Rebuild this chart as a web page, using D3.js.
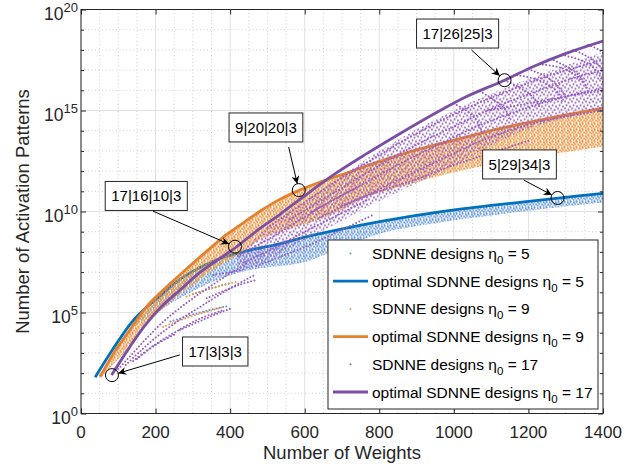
<!DOCTYPE html>
<meta charset="utf-8">
<script src="https://d3js.org/d3.v7.min.js"></script>
<style>
  body { margin: 0; background: #fff; }
  text { font-family: "Liberation Sans", Arial, sans-serif; fill: #262626; }
</style>
<div id="chart"></div>
<script>

// ---- data: [number of weights, log10(number of activation patterns)] ----

// optimal designs (lines)
var opt5 = [[38,1.8],[87,3.23],[131,4.4],[155,4.9],[176,5.26],[220,5.95],[274,6.75],[363,7.6],[453,8.09],[533,8.4],[587,8.67],[685,9.08],[801,9.5],[962,9.98],[1100,10.3],[1274,10.65],[1400,10.9]];
var opt9 = [[51,1.82],[90,3.05],[131,4.13],[176,5.29],[220,6.1],[265,6.86],[310,7.6],[354,8.3],[390,8.85],[440,9.5],[479,10.0],[533,10.6],[587,11.06],[640,11.45],[712,11.9],[765,12.25],[890,13.0],[1015,13.6],[1122,14.1],[1250,14.6],[1400,15.12]];
var opt17 = [[82,1.9],[131,3.3],[176,4.46],[220,5.37],[265,6.1],[310,6.85],[354,7.45],[408,8.12],[479,9.15],[533,9.85],[587,10.6],[676,11.8],[765,12.85],[855,13.85],[944,14.8],[1033,15.68],[1136,16.5],[1212,17.17],[1301,17.83],[1400,18.44]];

// dense clouds of designs: [weights, upper log10, lower log10]
var band5 = [[140,4.7,4.3],[176,5.2,4.7],[220,5.9,5.2],[274,6.7,5.8],[363,7.55,6.6],[453,8.05,7.1],[533,8.35,7.3],[600,8.65,7.5],[685,9.05,8.1],[801,9.45,8.9],[962,9.95,9.45],[1100,10.27,9.8],[1274,10.62,10.2],[1400,10.87,10.45]];
var band9 = [[55,1.9,1.8],[90,3.0,2.5],[131,4.1,3.3],[176,5.25,4.4],[220,6.05,5.2],[265,6.8,5.9],[310,7.55,6.5],[354,8.25,7.1],[390,8.8,7.5],[440,9.45,8.1],[479,9.95,8.6],[533,10.55,9.0],[587,11.0,9.3],[640,11.4,9.6],[712,11.85,10.2],[765,12.2,10.7],[890,12.95,11.4],[1015,13.55,12.0],[1122,14.05,12.4],[1250,14.55,12.8],[1400,15.05,13.2]];
var band17 = [[420,7.9,7.0],[479,8.9,7.4],[533,9.6,7.9],[600,10.5,8.6],[686,11.6,9.4],[765,12.6,10.2],[855,13.6,11.0],[944,14.5,11.8],[1033,15.3,12.6],[1136,16.1,13.6],[1250,16.9,14.4],[1400,17.9,15.0]];

// families of designs that show up as dotted arcs
var arcs5 = [
  [[240,4.55],[290,4.85],[340,5.1],[390,5.3]],
  [[300,5.9],[350,6.2],[400,6.45]]
];
var arcs9 = [
  [[220,4.28],[270,4.65],[330,5.0],[381,5.27]],
  [[283,5.78],[330,6.1],[380,6.35],[417,6.52]]
];
var arcs17 = [
  [[100,2.2],[140,3.0],[180,3.8],[230,4.7],[300,5.7],[380,6.7],[450,7.5]],
  [[120,2.4],[160,3.1],[210,3.9],[270,4.7],[330,5.4],[400,6.2],[470,6.9]],
  [[140,2.6],[190,3.3],[250,4.0],[320,4.7],[380,5.1]],
  [[150,2.7],[200,3.4],[250,3.9]],
  [[265,4.13],[310,4.5],[360,4.9],[404,5.22]],
  [[337,5.7],[380,6.05],[430,6.4],[470,6.61]],
  [[354,6.86],[400,7.0],[434,7.1]],
  [[420,7.8],[500,8.6],[580,9.5],[660,10.4],[740,11.2]],
  [[440,7.5],[520,8.2],[600,9.0],[686,9.8],[770,10.6]],
  [[470,7.3],[540,7.8],[620,8.4],[700,9.1],[780,9.8]],
  [[500,9.2],[587,10.3],[676,11.4],[765,12.4],[855,13.4],[944,14.3],[1033,15.1],[1136,15.9],[1250,16.7],[1400,17.5]],
  [[560,9.6],[640,10.5],[730,11.5],[820,12.5],[910,13.4],[1000,14.2],[1090,15.0],[1200,15.8],[1320,16.6],[1400,17.0]],
  [[620,10.0],[700,10.8],[790,11.7],[880,12.6],[970,13.4],[1060,14.2],[1160,14.9],[1280,15.6],[1400,16.1]],
  [[640,9.7],[720,10.4],[810,11.2],[900,12.0],[990,12.8],[1087,13.6],[1200,14.3],[1300,14.7],[1400,15.0]],
  [[700,10.3],[800,11.0],[900,11.6],[1000,12.3],[1100,12.9],[1200,13.5]],
  [[1090,15.0],[1200,15.35],[1300,15.7],[1400,16.0]],
  [[1000,15.35],[1040,14.9],[1065,14.4],[1075,13.9]],
  [[1070,15.95],[1110,15.5],[1140,15.0],[1150,14.5]],
  [[1136,16.5],[1180,16.1],[1215,15.6],[1230,15.15]],
  [[1170,16.75],[1220,16.55],[1260,16.2],[1285,15.75],[1290,15.4]],
  [[1200,17.05],[1245,16.7],[1280,16.2],[1300,15.65]],
  [[1230,17.3],[1290,17.1],[1330,16.7],[1350,16.3]],
  [[1260,17.55],[1300,17.2],[1335,16.75],[1355,16.2],[1360,15.85]],
  [[1290,17.75],[1340,17.5],[1375,17.1],[1395,16.6],[1400,16.4]],
  [[1320,18.0],[1355,17.7],[1385,17.3],[1400,17.0]],
  [[1360,18.25],[1390,18.0],[1400,17.85]]
];

// highlighted designs: label, point, box centre, arrow tail
var notes = [
  {label: "17|26|25|3", pt: [1136,16.5], box: [1010,18.81], tail: [1047,18.0]},
  {label: "9|20|20|3",  pt: [584,11.06], box: [496,14.16],  tail: [557,13.19]},
  {label: "17|16|10|3", pt: [413,8.26],  box: [175,10.77],  tail: [193,10.02]},
  {label: "5|29|34|3",  pt: [1278,10.67], box: [1176,12.33], tail: [1187,11.56]},
  {label: "17|3|3|3",   pt: [83,1.9],    box: [360,3.07],   tail: [265,2.9]}
];

var xTicks = [0,200,400,600,800,1000,1200,1400];
var yTickExp = [0,5,10,15,20];

var colLine = {5: "#0072BD", 9: "#E5812E", 17: "#7B4FA6"};
var colDot  = {5: "#5E93DA", 9: "#EE9642", 17: "#945BC0"};

// ---- layout ----
var W = 641, H = 468;
var margin = {top: 9.5, left: 81, right: 38, bottom: 54.5};
var width = W - margin.left - margin.right,
    height = H - margin.top - margin.bottom;

var svg = d3.select("#chart").append("svg")
    .attr("width", W).attr("height", H);

var defs = svg.append("defs");
defs.append("clipPath").attr("id", "plotclip")
  .append("rect").attr("width", width).attr("height", height);

// stipple tiles for the dense clouds of designs
var tileDots = [[0.8,0.9],[3.7,0.5],[2.2,2.6],[5.1,3.1],[0.6,4.4],[3.4,5.2]];
function stipple(id, size, dots, r, col) {
  var p = defs.append("pattern").attr("id", id)
      .attr("patternUnits", "userSpaceOnUse")
      .attr("width", size).attr("height", size);
  dots.forEach(function(d) {
    p.append("circle").attr("cx", d[0]).attr("cy", d[1]).attr("r", r).attr("fill", col);
  });
}
stipple("dots5", 6, tileDots, 1.0, colDot[5]);
stipple("dots9", 6, tileDots, 1.12, colDot[9]);
stipple("dots17", 7, [[1,1],[4.5,2.2],[2.6,4.8],[6,6]], 1.0, colDot[17]);

defs.append("marker").attr("id", "arrow")
    .attr("viewBox", "0 0 10 10").attr("refX", 10).attr("refY", 5)
    .attr("markerUnits", "userSpaceOnUse")
    .attr("markerWidth", 10).attr("markerHeight", 8)
    .attr("orient", "auto")
  .append("path").attr("d", "M0,0 L10,5 L0,10 L3,5 z").attr("fill", "#000");

var g = svg.append("g")
    .attr("transform", "translate(" + margin.left + "," + margin.top + ")");

var x = d3.scaleLinear().domain([0, 1400]).range([0, width]);
var y = d3.scaleLog().domain([1, 1e20]).range([height, 0]);
function yv(e) { return y(Math.pow(10, e)); }

// ---- grid ----
var xMinor = d3.range(50, 1400, 50).filter(function(v) { return v % 200 != 0; });
var yMinor = d3.range(1, 20).filter(function(e) { return e % 5 != 0; });

g.append("g").selectAll("line").data(xMinor).enter().append("line")
    .attr("x1", function(d) { return x(d); }).attr("x2", function(d) { return x(d); })
    .attr("y1", 0).attr("y2", height)
    .attr("stroke", "#c4c4c4").attr("stroke-width", 0.8).attr("stroke-dasharray", "1,2.5");
g.append("g").selectAll("line").data(yMinor).enter().append("line")
    .attr("y1", function(d) { return yv(d); }).attr("y2", function(d) { return yv(d); })
    .attr("x1", 0).attr("x2", width)
    .attr("stroke", "#c4c4c4").attr("stroke-width", 0.8).attr("stroke-dasharray", "1,2.5");
g.append("g").selectAll("line").data(xTicks).enter().append("line")
    .attr("x1", function(d) { return x(d); }).attr("x2", function(d) { return x(d); })
    .attr("y1", 0).attr("y2", height)
    .attr("stroke", "#dedede").attr("stroke-width", 0.9);
g.append("g").selectAll("line").data(yTickExp).enter().append("line")
    .attr("y1", function(d) { return yv(d); }).attr("y2", function(d) { return yv(d); })
    .attr("x1", 0).attr("x2", width)
    .attr("stroke", "#dedede").attr("stroke-width", 0.9);

// ---- data marks ----
var plot = g.append("g").attr("clip-path", "url(#plotclip)");

var line = d3.line()
    .x(function(d) { return x(d[0]); })
    .y(function(d) { return yv(d[1]); })
    .curve(d3.curveCatmullRom);

var area = d3.area()
    .x(function(d) { return x(d[0]); })
    .y0(function(d) { return yv(d[2]); })
    .y1(function(d) { return yv(d[1]); })
    .curve(d3.curveCatmullRom);

function drawArcs(list, k) {
  plot.append("g").selectAll("path").data(list).enter().append("path")
      .attr("d", line)
      .attr("fill", "none")
      .attr("stroke", colDot[k])
      .attr("stroke-width", 2)
      .attr("stroke-linecap", "round")
      .attr("stroke-dasharray", "0,3.4");
}
function drawOpt(data, k) {
  plot.append("path").datum(data)
      .attr("d", line)
      .attr("fill", "none")
      .attr("stroke", colLine[k])
      .attr("stroke-width", 2.8);
}

plot.append("path").datum(band5).attr("d", area).attr("fill", "url(#dots5)");
drawArcs(arcs5, 5);
drawOpt(opt5, 5);
plot.append("path").datum(band9).attr("d", area).attr("fill", "url(#dots9)");
drawArcs(arcs9, 9);
drawOpt(opt9, 9);
plot.append("path").datum(band17).attr("d", area).attr("fill", "url(#dots17)");
drawArcs(arcs17, 17);
drawOpt(opt17, 17);

// ---- axes ----
var axisCol = "#262626";
function styleAxis(sel) {
  sel.select(".domain").remove();
  sel.selectAll(".tick line").attr("stroke", axisCol);
  sel.selectAll(".tick text").remove();
}
g.append("g").attr("transform", "translate(0," + height + ")")
  .call(d3.axisBottom(x).tickValues(xTicks).tickSize(-5)).call(styleAxis);
g.append("g")
  .call(d3.axisTop(x).tickValues(xTicks).tickSize(-5)).call(styleAxis);
var yMaj = yTickExp.map(function(e) { return Math.pow(10, e); });
var yMin = yMinor.map(function(e) { return Math.pow(10, e); });
g.append("g").call(d3.axisLeft(y).tickValues(yMaj).tickSize(-5)).call(styleAxis);
g.append("g").call(d3.axisLeft(y).tickValues(yMin).tickSize(-3)).call(styleAxis);
g.append("g").attr("transform", "translate(" + width + ",0)")
  .call(d3.axisRight(y).tickValues(yMaj).tickSize(-5)).call(styleAxis);
g.append("g").attr("transform", "translate(" + width + ",0)")
  .call(d3.axisRight(y).tickValues(yMin).tickSize(-3)).call(styleAxis);

g.append("rect").attr("width", width).attr("height", height)
    .attr("fill", "none").attr("stroke", axisCol).attr("stroke-width", 1);

// tick labels
g.append("g").selectAll("text").data(xTicks).enter().append("text")
    .attr("x", function(d) { return x(d); })
    .attr("y", height + 24.5)
    .attr("text-anchor", "middle")
    .style("font-size", "17px")
    .text(function(d) { return d; });

var yl = g.append("g").selectAll("text").data(yTickExp).enter().append("text")
    .attr("x", -3)
    .attr("y", function(d) { return yv(d) + 10.5; })
    .attr("text-anchor", "end")
    .style("font-size", "17.5px");
yl.append("tspan").text("10");
yl.append("tspan").attr("dy", -8.5).style("font-size", "13px").text(function(d) { return d; });

// axis titles
g.append("text")
    .attr("x", width / 2).attr("y", height + 45.5)
    .attr("text-anchor", "middle")
    .style("font-size", "18.5px")
    .text("Number of Weights");
g.append("text")
    .attr("transform", "rotate(-90)")
    .attr("x", -height / 2).attr("y", -52)
    .attr("text-anchor", "middle")
    .style("font-size", "18.5px")
    .text("Number of Activation Patterns");

// ---- annotations ----
var ann = g.append("g");
notes.forEach(function(n) {
  var px = x(n.pt[0]), py = yv(n.pt[1]);
  var tx = x(n.tail[0]), ty = yv(n.tail[1]);
  var dx = px - tx, dy = py - ty, len = Math.sqrt(dx * dx + dy * dy);
  var r = 6.5;
  ann.append("circle").attr("cx", px).attr("cy", py).attr("r", r)
      .attr("fill", "none").attr("stroke", "#000").attr("stroke-width", 1);
  ann.append("line")
      .attr("x1", tx).attr("y1", ty)
      .attr("x2", px - dx / len * r).attr("y2", py - dy / len * r)
      .attr("stroke", "#000").attr("stroke-width", 1)
      .attr("marker-end", "url(#arrow)");
  var bx = x(n.box[0]), by = yv(n.box[1]);
  var bg = ann.append("g");
  var rect = bg.append("rect");
  var t = bg.append("text").attr("x", bx).attr("y", by).attr("dy", "0.36em")
      .attr("text-anchor", "middle").style("font-size", "15px").style("fill", "#000")
      .text(n.label);
  var bb = t.node().getBBox();
  rect.attr("x", bb.x - 6).attr("y", by - 14.5).attr("width", bb.width + 12).attr("height", 29)
      .attr("fill", "#fff").attr("stroke", "#262626").attr("stroke-width", 1);
});

// ---- legend ----
var legendItems = [
  {k: 5,  type: "dots", name: "SDNNE designs \u03b7", val: "5"},
  {k: 5,  type: "line", name: "optimal SDNNE designs \u03b7", val: "5"},
  {k: 9,  type: "dots", name: "SDNNE designs \u03b7", val: "9"},
  {k: 9,  type: "line", name: "optimal SDNNE designs \u03b7", val: "9"},
  {k: 17, type: "dots", name: "SDNNE designs \u03b7", val: "17"},
  {k: 17, type: "line", name: "optimal SDNNE designs \u03b7", val: "17"}
];
var leg = g.append("g").attr("transform", "translate(" + (328 - margin.left) + "," + (240 - margin.top) + ")");
leg.append("rect").attr("width", 270).attr("height", 169)
    .attr("fill", "#fff").attr("stroke", axisCol).attr("stroke-width", 1);
var rows = leg.selectAll("g.row").data(legendItems).enter().append("g")
    .attr("transform", function(d, i) { return "translate(0," + (13.5 + i * 27.7) + ")"; });
rows.filter(function(d) { return d.type == "line"; }).append("line")
    .attr("x1", 5).attr("x2", 40).attr("y1", 0).attr("y2", 0)
    .attr("stroke", function(d) { return colLine[d.k]; }).attr("stroke-width", 2.8);
rows.filter(function(d) { return d.type == "dots"; }).append("circle")
    .attr("cx", 22.5).attr("cy", 0).attr("r", 1)
    .attr("fill", function(d) { return colDot[d.k]; });
var lt = rows.append("text").attr("x", 44).attr("y", 5.5).style("font-size", "15.5px").style("fill", "#000");
lt.append("tspan").text(function(d) { return d.name; });
lt.append("tspan").attr("dy", 5).style("font-size", "11.5px").text("0");
lt.append("tspan").attr("dy", -5).text(function(d) { return " = " + d.val; });

</script>
